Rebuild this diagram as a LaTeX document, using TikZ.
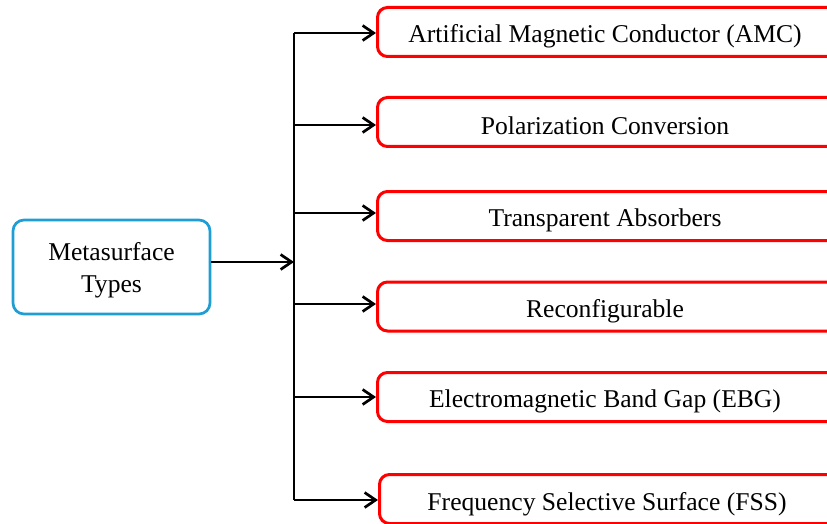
\documentclass[tikz,border=0pt]{standalone}
\usepackage{fontspec}
\setmainfont{Liberation Serif}
\usetikzlibrary{arrows.meta}
\definecolor{rootblue}{RGB}{30,158,212}
\definecolor{leafred}{RGB}{255,0,0}
\begin{document}
\begin{tikzpicture}[x=1pt,y=-1pt,
  rootbox/.style={draw=rootblue,line width=2.7pt,rounded corners=11pt,fill=white,
    minimum width=197pt,minimum height=94pt},
  rootlabel/.style={align=center,font=\fontsize{25.6}{32}\selectfont},
  leafbox/.style={draw=leafred,line width=3pt,rounded corners=10pt,fill=white,
    minimum width=500pt,minimum height=49pt,anchor=west},
  leaflabel/.style={font=\fontsize{25.6}{31}\selectfont},
  branch/.style={line width=2.7pt,-{Straight Barb[length=11pt,width=15pt,line width=2.7pt]}},
  trunk/.style={line width=2.7pt}]
\useasboundingbox (0,0) rectangle (827,524);
\clip (0,0) rectangle (827,524);

% source box
\node[rootbox] (root) at (111.5,267) {};
\node[rootlabel] (rootlabel) at (111.5,270) {Metasurface\\Types};

% trunk of the tree
\coordinate (ttop) at (294,33);
\coordinate (tbot) at (294,500);
\coordinate (tmid) at (294,262);
\draw[trunk] (ttop) -- (tbot);
\draw[branch] (root.east |- tmid) -- (tmid);

% target boxes
\node[leafbox] (amc) at (376,32) {};
\node[leafbox] (pol) at (376,122) {};
\node[leafbox] (abs) at (376,216) {};
\node[leafbox] (rec) at (376,306.5) {};
\node[leafbox] (ebg) at (376,397) {};
\node[leafbox] (fss) at (378,499) {};

\node[leaflabel] (amclabel) at (605,36) {Artificial Magnetic Conductor (AMC)};
\node[leaflabel] (pollabel) at (605,126) {Polarization Conversion};
\node[leaflabel] (abslabel) at (605,220) {Transparent Absorbers};
\node[leaflabel] (reclabel) at (605,311) {Reconfigurable};
\node[leaflabel] (ebglabel) at (605,401) {Electromagnetic Band Gap (EBG)};
\node[leaflabel] (fsslabel) at (607,504) {Frequency Selective Surface (FSS)};

% branches
\foreach \n/\y in {amc/33,pol/125,abs/213,rec/304,ebg/397,fss/500}{
  \draw[branch] (294,\y) -- (\n.west |- 0,\y);
}
\end{tikzpicture}
\end{document}
